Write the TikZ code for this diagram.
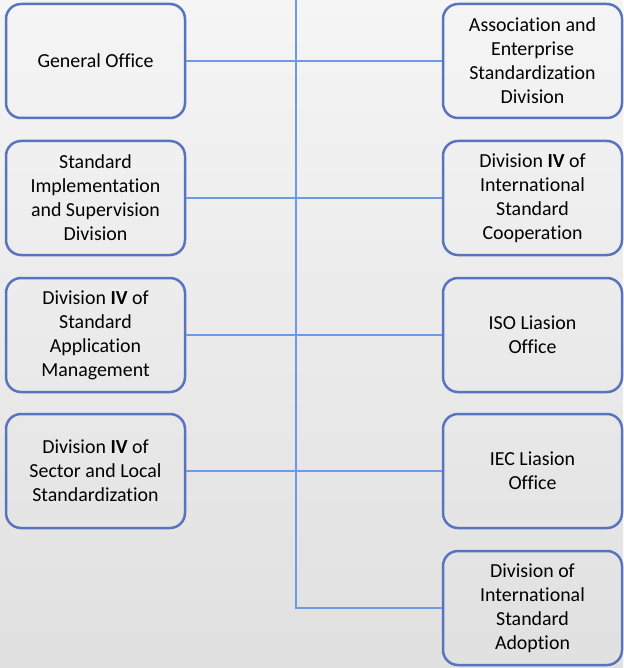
\documentclass[tikz,border=0pt]{standalone}
\usepackage{fontspec}
\setmainfont[Ligatures=CommonOff]{Carlito}
\definecolor{boxblue}{RGB}{88,116,190}
\definecolor{lineblue}{RGB}{106,155,230}
\tikzset{
    unit/.style={draw=boxblue, line width=2.5pt, rounded corners=15pt, minimum width=179pt, minimum height=114pt, text width=170pt, align=flush center, font=\fontsize{19.9}{24}\selectfont},
    link/.style={draw=lineblue, line width=1.4pt}
}
\begin{document}
\begin{tikzpicture}[x=1pt,y=-1pt]
    \shade[top color=black!4, bottom color=black!12] (0,0) rectangle (623,668);
    \useasboundingbox (0,0) rectangle (623,668);

    \node[unit] (general) at (95.5,61) {General Office};
    \node[unit] (implement) at (95.5,198) {Standard\\Implementation\\and Supervision\\Division};
    \node[unit] (application) at (95.5,335) {Division \textbf{IV} of\\Standard\\Application\\Management};
    \node[unit] (sector) at (95.5,471) {Division \textbf{IV} of\\Sector and Local\\Standardization};

    \node[unit] (association) at (532.5,61) {Association and\\Enterprise\\Standardization\\Division};
    \node[unit] (cooperation) at (532.5,198) {Division \textbf{IV} of\\International\\Standard\\Cooperation};
    \node[unit] (iso) at (532.5,335) {ISO Liasion\\Office};
    \node[unit] (iec) at (532.5,471) {IEC Liasion\\Office};
    \node[unit] (adoption) at (532.5,608) {Division of\\International\\Standard\\Adoption};

    \coordinate (trunk) at (296,0);
    \draw[link] (trunk) |- (adoption.west);
    \draw[link] (general.east) -- (association.west);
    \draw[link] (implement.east) -- (cooperation.west);
    \draw[link] (application.east) -- (iso.west);
    \draw[link] (sector.east) -- (iec.west);
\end{tikzpicture}
\end{document}
